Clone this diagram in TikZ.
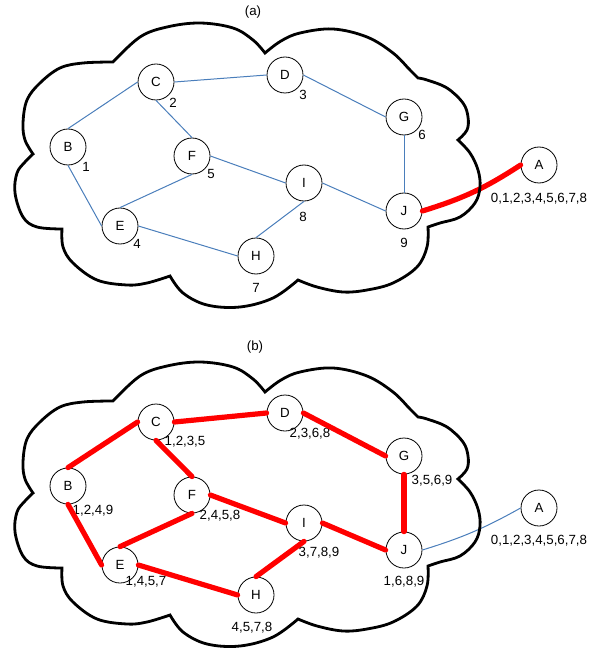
\documentclass[tikz,border=0pt]{standalone}
\usepackage{fontspec}
\setmainfont{Liberation Sans}
\definecolor{linkblue}{RGB}{74,126,187}

% Outline of the cloud: nine puffs, each a smooth run between two notches
\newcommand\cloudoutline{%
  plot[smooth,tension=0.6] coordinates {(33,154) (25,140) (23,123) (27,100) (40,83) (60,68) (83,63) (113,62)}
  -- plot[smooth,tension=0.6] coordinates {(113,62) (140,37) (167,27) (200,23) (233,28) (253,40) (265,53)}
  -- plot[smooth,tension=0.6] coordinates {(265,53) (281,41) (300,33) (333,29) (367,37) (393,53) (410,70) (418,78)}
  -- plot[smooth,tension=0.6] coordinates {(418,78) (427,80) (447,88) (463,103) (468,117) (467,130) (458,140)}
  -- plot[smooth,tension=0.6] coordinates {(458,140) (470,153) (478,170) (480,187) (475,203) (460,217) (440,223) (428,227)}
  -- plot[smooth,tension=0.6] coordinates {(428,227) (427,247) (417,267) (393,283) (367,290) (343,292) (317,287) (298,280)}
  -- plot[smooth,tension=0.6] coordinates {(298,280) (273,298) (240,307) (207,305) (183,293) (170,276)}
  -- plot[smooth,tension=0.6] coordinates {(170,276) (147,283) (127,285) (97,280) (73,263) (63,247) (62,229)}
  -- plot[smooth,tension=0.6] coordinates {(62,229) (37,227) (23,217) (15,193) (17,173) (25,162) (33,154)}
  -- cycle}

\begin{document}
\begin{tikzpicture}[x=1pt,y=-1pt,
  every node/.style={font=\fontsize{13.3}{16}\selectfont, inner sep=0pt},
  station/.style={circle, draw, fill=white, line width=0.8pt, minimum size=36pt},
  link/.style={draw=linkblue, line width=1pt},
  hot/.style={draw=red, line width=5.2pt, line cap=round},
  cloudline/.style={line width=2.8pt, line join=miter}]
\useasboundingbox (0,0) rectangle (601,652);

% ---------- (a) ----------
\node (ta) at (253,12) {(a)};
\node[station] (aA) at (539,165) {A};
\node[station] (aB) at (68,147) {B};
\node[station] (aC) at (156,82) {C};
\node[station] (aD) at (285,75) {D};
\node[station] (aE) at (120,226) {E};
\node[station] (aF) at (192,156) {F};
\node[station] (aG) at (404,117) {G};
\node[station] (aH) at (256,256) {H};
\node[station] (aI) at (304,183) {I};
\node[station] (aJ) at (404,211) {J};

\node (aAl) at (539,199) {0,1,2,3,4,5,6,7,8};
\node (aBl) at (86,167) {1};
\node (aCl) at (173,103) {2};
\node (aDl) at (303,95) {3};
\node (aEl) at (137,244) {4};
\node (aFl) at (211,174) {5};
\node (aGl) at (422,135) {6};
\node (aHl) at (256,288) {7};
\node (aIl) at (303,217) {8};
\node (aJl) at (404,243) {9};

\draw[link] (aB.north) -- (aC.west);
\draw[link] (aC.east) -- (aD.west);
\draw[link] (aC.south) -- (aF.north);
\draw[link] (aD.east) -- (aG.west);
\draw[link] (aB.south) -- (aE.west);
\draw[link] (aF.south) -- (aE.north);
\draw[link] (aF.east) -- (aI.west);
\draw[link] (aE.east) -- (aH.west);
\draw[link] (aH.north) -- (aI.south);
\draw[link] (aI.east) -- (aJ.west);
\draw[link] (aG.south) -- (aJ.north);
\draw[hot] (aJ.east) to[bend right=8] (aA.west);

\draw[cloudline] \cloudoutline;

% ---------- (b) ----------
\node (tb) at (255,347) {(b)};
\node[station] (bA) at (539,508) {A};
\node[station] (bB) at (68,486) {B};
\node[station] (bC) at (156,422) {C};
\node[station] (bD) at (285,413) {D};
\node[station] (bE) at (120,565) {E};
\node[station] (bF) at (192,495) {F};
\node[station] (bG) at (404,456) {G};
\node[station] (bH) at (256,595) {H};
\node[station] (bI) at (304,523) {I};
\node[station] (bJ) at (404,550) {J};

\node (bAl) at (539,541) {0,1,2,3,4,5,6,7,8};
\node (bBl) at (93,511) {1,2,4,9};
\node (bCl) at (185,442) {1,2,3,5};
\node (bDl) at (310,434) {2,3,6,8};
\node (bEl) at (146,582) {1,4,5,7};
\node (bFl) at (220,516) {2,4,5,8};
\node (bGl) at (432,481) {3,5,6,9};
\node (bHl) at (252,628) {4,5,7,8};
\node (bIl) at (319,553) {3,7,8,9};
\node (bJl) at (404,582) {1,6,8,9};

\draw[hot] (bB.north) -- (bC.west);
\draw[hot] (bC.east) -- (bD.west);
\draw[hot] (bC.south) -- (bF.north);
\draw[hot] (bD.east) -- (bG.west);
\draw[hot] (bB.south) -- (bE.west);
\draw[hot] (bF.south) -- (bE.north);
\draw[hot] (bF.east) -- (bI.west);
\draw[hot] (bE.east) -- (bH.west);
\draw[hot] (bH.north) -- (bI.south);
\draw[hot] (bI.east) -- (bJ.west);
\draw[hot] (bG.south) -- (bJ.north);
\draw[link] (bJ.east) to[bend right=6] (bA.west);

\begin{scope}[shift={(0,339)}]
  \draw[cloudline] \cloudoutline;
\end{scope}
\end{tikzpicture}
\end{document}
